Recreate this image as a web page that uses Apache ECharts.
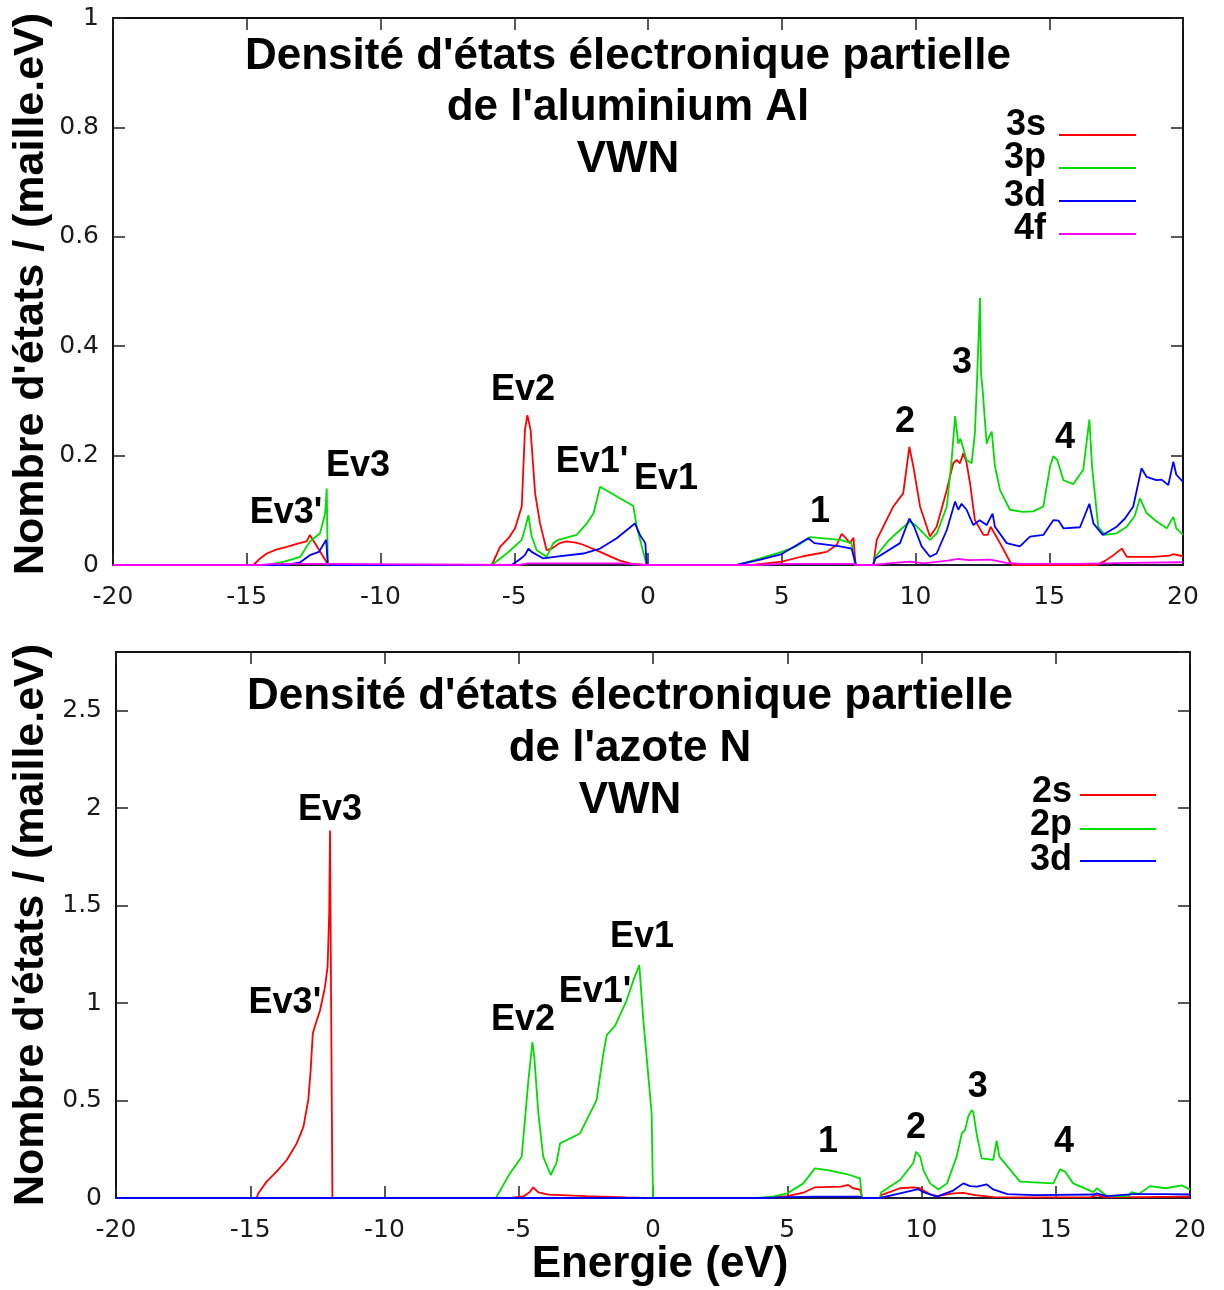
<!DOCTYPE html>
<html>
<head>
<meta charset="utf-8">
<script src="https://cdn.jsdelivr.net/npm/echarts@6/dist/echarts.min.js"></script>
<style>
html,body{margin:0;padding:0;background:#fff;}
#c{width:1224px;height:1290px;}
</style>
</head>
<body>
<div id="c"></div>
<script>
// ---------- Data (Energy eV, DOS states/(maille.eV)) ----------
const xTicks = [-20, -15, -10, -5, 0, 5, 10, 15, 20];

// Top panel: Al partial DOS
const al3s = [[-20,0],[-14.75,0],[-14.5,0.012],[-14.25,0.021],[-13.9,0.028],[-13.5,0.033],[-13.1,0.039],[-12.76,0.043],[-12.64,0.055],[-12.3,0.028],[-11.95,0],
 [-5.84,0],[-5.53,0.033],[-5.2,0.05],[-4.97,0.067],[-4.72,0.107],[-4.6,0.247],[-4.51,0.274],[-4.39,0.247],[-4.22,0.131],[-4.04,0.077],[-3.79,0.027],[-3.6,0.03],[-3.3,0.04],[-3.04,0.043],[-2.7,0.041],[-2.42,0.037],[-1.79,0.024],[-1.05,0.008],[-0.6,0.002],[-0.1,0],
 [3.9,0],[5,0.006],[5.8,0.016],[6.68,0.024],[7.06,0.037],[7.24,0.057],[7.4,0.049],[7.55,0.04],[7.68,0.05],[7.76,0],
 [8.42,0],[8.55,0.046],[9.17,0.107],[9.54,0.131],[9.77,0.216],[9.92,0.18],[10.17,0.107],[10.54,0.052],[10.79,0.07],[11.17,0.137],[11.41,0.186],[11.54,0.192],[11.66,0.186],[11.79,0.204],[11.9,0.189],[12.04,0.149],[12.22,0.082],[12.54,0.055],[12.7,0.055],[12.81,0.07],[13.16,0.04],[13.6,0],
 [16.77,0],[17.1,0.008],[17.4,0.018],[17.71,0.03],[17.9,0.015],[18.9,0.015],[19.5,0.017],[19.64,0.02],[20,0.016]];
const al3p = [[-20,0],[-14.25,0],[-13.6,0.006],[-13.0,0.015],[-12.64,0.043],[-12.26,0.058],[-12.07,0.094],[-12.01,0.14],[-11.97,0],
 [-5.84,0],[-5.28,0.021],[-4.72,0.046],[-4.58,0.07],[-4.47,0.091],[-4.35,0.052],[-4.16,0.027],[-3.79,0.015],[-3.54,0.04],[-3.35,0.046],[-2.67,0.055],[-2.3,0.075],[-2.04,0.094],[-1.79,0.143],[-0.55,0.108],[-0.42,0.07],[-0.05,0],
 [3.31,0],[4.2,0.012],[5,0.024],[5.5,0.033],[5.93,0.046],[6.05,0.051],[7.18,0.046],[7.61,0.04],[7.74,0],
 [8.42,0],[8.5,0.015],[9.0,0.045],[9.42,0.064],[9.79,0.079],[10.0,0.073],[10.54,0.046],[10.8,0.058],[11.17,0.107],[11.35,0.192],[11.48,0.272],[11.6,0.222],[11.68,0.231],[11.91,0.192],[12.1,0.186],[12.22,0.241],[12.31,0.35],[12.41,0.488],[12.45,0.35],[12.5,0.326],[12.66,0.222],[12.75,0.234],[12.85,0.244],[12.97,0.18],[13.16,0.137],[13.53,0.101],[14.0,0.097],[14.4,0.098],[14.78,0.107],[15.03,0.18],[15.15,0.199],[15.3,0.192],[15.53,0.155],[15.9,0.148],[16.27,0.174],[16.5,0.266],[16.6,0.18],[16.83,0.07],[17.08,0.055],[17.52,0.058],[17.9,0.07],[18.2,0.09],[18.39,0.122],[18.64,0.095],[19.0,0.08],[19.39,0.067],[19.64,0.088],[19.75,0.067],[20,0.055]];
const al3d = [[-20,0],[-13.5,0],[-13.0,0.005],[-12.64,0.018],[-12.3,0.024],[-12.03,0.046],[-11.97,0],
 [-5.1,0],[-4.8,0.01],[-4.6,0.018],[-4.47,0.03],[-4.35,0.024],[-3.91,0.012],[-3.5,0.015],[-2.42,0.021],[-1.79,0.03],[-1.17,0.049],[-0.49,0.076],[-0.3,0.055],[-0.1,0.04],[-0.05,0],
 [3.31,0],[4.2,0.01],[5,0.02],[5.99,0.049],[6.22,0.04],[7.18,0.034],[7.61,0.03],[7.78,0],
 [8.42,0],[8.5,0.012],[9.42,0.04],[9.77,0.085],[9.95,0.07],[10.23,0.034],[10.54,0.015],[10.79,0.021],[11.17,0.064],[11.48,0.116],[11.6,0.101],[11.72,0.112],[11.91,0.101],[12.16,0.073],[12.4,0.082],[12.66,0.073],[12.88,0.094],[12.97,0.07],[13.41,0.04],[13.9,0.034],[14.28,0.052],[14.78,0.055],[15.15,0.082],[15.35,0.081],[15.53,0.067],[16.15,0.069],[16.5,0.112],[16.65,0.076],[17.0,0.055],[17.52,0.07],[17.83,0.085],[18.14,0.107],[18.45,0.177],[18.64,0.161],[19.0,0.155],[19.2,0.156],[19.45,0.146],[19.64,0.189],[19.75,0.165],[20,0.152]];
const al4f = [[-20,0],[-14.5,0],[-14,0.002],[-12,0.002],[-11.95,0],[-4.8,0],[-4.5,0.003],[-1,0.003],[-0.1,0],[4,0],[5,0.002],[7.7,0.002],[7.8,0],[8.4,0],[9,0.003],[9.8,0.006],[10.3,0.003],[11.2,0.008],[11.6,0.011],[12,0.009],[12.8,0.01],[13.4,0.004],[14,0.002],[16,0.002],[17,0.003],[18,0.004],[20,0.005]];

// Bottom panel: N partial DOS
const n2s = [[-20,0],[-14.76,0],[-14.7,0.024],[-14.39,0.084],[-14.02,0.135],[-13.64,0.195],[-13.27,0.28],[-13.02,0.365],[-12.84,0.502],[-12.75,0.656],[-12.67,0.844],[-12.6,0.878],[-12.4,0.963],[-12.22,1.08],[-12.12,1.185],[-12.06,1.458],[-12.03,1.885],[-11.94,0],
 [-5.3,0],[-4.8,0.01],[-4.6,0.029],[-4.46,0.055],[-4.27,0.029],[-3.9,0.017],[-2.5,0.01],[-1.0,0.003],[-0.3,0],
 [4.2,0],[5.0,0.01],[5.6,0.027],[6.03,0.055],[7.0,0.058],[7.27,0.067],[7.45,0.05],[7.71,0.043],[7.8,0],
 [8.45,0],[8.5,0.015],[9.2,0.05],[9.69,0.055],[9.94,0.05],[10.3,0.02],[10.6,0.01],[11.18,0.024],[11.55,0.026],[12.0,0.015],[12.7,0.005],[14,0.003],[16.3,0.005],[16.53,0.015],[16.8,0.005],[18,0.005],[20,0.007]];
const n2p = [[-20,0],[-5.85,0],[-5.33,0.126],[-4.89,0.212],[-4.64,0.605],[-4.49,0.8],[-4.42,0.72],[-4.27,0.434],[-4.09,0.212],[-3.81,0.118],[-3.6,0.178],[-3.46,0.28],[-3.4,0.27],[-2.72,0.331],[-2.1,0.502],[-1.85,0.741],[-1.72,0.835],[-1.4,0.886],[-0.98,1.014],[-0.73,1.117],[-0.51,1.194],[-0.36,0.912],[-0.05,0.434],[0,0],
 [3.86,0],[4.5,0.008],[5.0,0.024],[5.6,0.075],[6.03,0.152],[6.5,0.143],[7.21,0.123],[7.71,0.101],[7.74,0.104],[7.78,0],
 [8.45,0],[8.5,0.03],[9.2,0.092],[9.69,0.178],[9.8,0.237],[9.95,0.212],[10.07,0.143],[10.32,0.075],[10.63,0.044],[10.95,0.075],[11.31,0.212],[11.5,0.331],[11.62,0.348],[11.74,0.417],[11.87,0.451],[11.93,0.44],[12.05,0.331],[12.24,0.203],[12.67,0.195],[12.8,0.294],[12.9,0.212],[13.67,0.084],[14.91,0.075],[15.16,0.147],[15.35,0.135],[15.65,0.075],[16.4,0.03],[16.53,0.05],[16.9,0.01],[17.7,0.01],[17.83,0.03],[18.1,0.02],[18.51,0.061],[19.1,0.05],[19.69,0.065],[20,0.043]];
const n3d = [[-20,0],[4.2,0],[5,0.005],[6,0.007],[7.7,0.007],[7.8,0],[8.45,0],[8.5,0.01],[9.2,0.024],[9.88,0.046],[10.07,0.03],[10.57,0.007],[11.18,0.038],[11.56,0.075],[11.81,0.061],[12.06,0.058],[12.43,0.07],[12.67,0.044],[13.2,0.02],[14.2,0.015],[16.4,0.018],[16.53,0.024],[16.9,0.01],[17.9,0.02],[19.1,0.02],[20,0.018]];

// Peak annotations [label, E, DOS]
const alPeaks = [["Ev3'",-13.53,0.095],["Ev3",-10.84,0.181],["Ev2",-4.67,0.32],["Ev1'",-2.09,0.188],["Ev1",0.67,0.157],["1",6.43,0.097],["2",9.61,0.261],["3",11.74,0.369],["4",15.59,0.232]];
const nPeaks = [["Ev3",-12.03,1.988],["Ev3'",-13.71,0.999],["Ev2",-4.84,0.912],["Ev1'",-2.16,1.055],["Ev1",-0.41,1.337],["1",6.52,0.287],["2",9.8,0.359],["3",12.1,0.569],["4",15.31,0.287]];

const alNames = ["3s","3p","3d","4f"];
const nNames = ["2s","2p","3d"];
const titleAl = ["Densité d'états électronique partielle","de l'aluminium Al","VWN"];
const titleN = ["Densité d'états électronique partielle","de l'azote N","VWN"];
const yTitle = "Nombre d'états / (maille.eV)";
const xTitle = "Energie (eV)";

// ---------- Styles ----------
const COLORS = ['#ff0000','#00dd00','#0000ff','#ff00ff'];
const BOLD = '"Liberation Sans", Arial, sans-serif';
const TICKF = '"DejaVu Sans", sans-serif';

const chart = echarts.init(document.getElementById('c'), null, {renderer:'canvas'});

const grids = [
  {left:113, top:18, width:1070, height:547},
  {left:116, top:652, width:1074, height:546}
];

const TICK = {show:true, inside:true, length:12, lineStyle:{color:'#222', width:1.5}};
function xAxes(gi){
  return [
    {gridIndex:gi, type:'value', min:-20, max:20, interval:5, position:'bottom',
     axisLine:{show:true, onZero:false, lineStyle:{color:'#1b1f2e', width:2}},
     axisTick:TICK,
     axisLabel:{show:true, color:'#1a1a1a', fontFamily:TICKF, fontSize:25, margin:20},
     splitLine:{show:false}},
    {gridIndex:gi, type:'value', min:-20, max:20, interval:5, position:'top',
     axisLine:{show:true, onZero:false, lineStyle:{color:'#111', width:2}},
     axisTick:TICK, axisLabel:{show:false}, splitLine:{show:false}}
  ];
}
function yAxes(gi, max, interval){
  return [
    {gridIndex:gi, type:'value', min:0, max:max, interval:interval, position:'left',
     axisLine:{show:true, onZero:false, lineStyle:{color:'#111', width:2}},
     axisTick:TICK,
     axisLabel:{show:true, color:'#1a1a1a', fontFamily:TICKF, fontSize:25, margin:14, showMaxLabel: max===1},
     splitLine:{show:false}},
    {gridIndex:gi, type:'value', min:0, max:max, interval:interval, position:'right',
     axisLine:{show:true, onZero:false, lineStyle:{color:'#111', width:2}},
     axisTick:TICK, axisLabel:{show:false}, splitLine:{show:false}}
  ];
}

function lineSeries(name, data, color, xi, yi){
  return {name:name, type:'line', xAxisIndex:xi, yAxisIndex:yi, data:data,
    showSymbol:false, symbol:'none', lineStyle:{color:color, width:1.8}, itemStyle:{color:color},
    animation:false, silent:true, z:3};
}
function labelSeries(peaks, xi, yi){
  return {type:'scatter', xAxisIndex:xi, yAxisIndex:yi, symbolSize:0, itemStyle:{color:'#000', opacity:1},
    data: peaks.map(p => ({name:p[0], value:[p[1], p[2]]})),
    label:{show:true, position:'inside', formatter:'{b}', color:'#000', opacity:1, fontFamily:BOLD, fontWeight:'bold', fontSize:36},
    emphasis:{disabled:true},
    animation:false, silent:true, z:5};
}

const series = [
  lineSeries(alNames[0], al3s, COLORS[0], 0, 0),
  lineSeries(alNames[1], al3p, COLORS[1], 0, 0),
  lineSeries(alNames[2], al3d, COLORS[2], 0, 0),
  lineSeries(alNames[3], al4f, COLORS[3], 0, 0),
  labelSeries(alPeaks, 0, 0),
  lineSeries(nNames[0], n2s, COLORS[0], 2, 2),
  lineSeries(nNames[1], n2p, COLORS[1], 2, 2),
  lineSeries(nNames[2], n3d, COLORS[2], 2, 2),
  labelSeries(nPeaks, 2, 2)
];

// text graphics (titles, axis titles, legends)
const graphics = [];
function txt(s, x, y, size, align, rot){
  graphics.push({type:'text', x:x, y:y, rotation:rot||0, silent:true,
    style:{text:s, font:'bold '+size+'px '+BOLD, fill:'#000', align:align||'center', verticalAlign:'middle'}});
}
titleAl.forEach((t,i)=> txt(t, 628, [57,108,160][i], 44));
titleN.forEach((t,i)=> txt(t, 630, [697,749,801][i], 44));
txt(yTitle, 31, 294, 43, 'center', Math.PI/2);
txt(yTitle, 31, 925, 43, 'center', Math.PI/2);
txt(xTitle, 660, 1265, 44);

function legend(names, textRight, textYs, lineX0, lineX1, lineYs){
  names.forEach((n,i)=>{
    txt(n, textRight, textYs[i], 36, 'right');
    graphics.push({type:'line', silent:true, shape:{x1:lineX0, y1:lineYs[i], x2:lineX1, y2:lineYs[i]},
      style:{stroke:COLORS[i], lineWidth:1.8}});
  });
}
legend(alNames, 1046, [125,158,196,229], 1059, 1136, [135,168,201,234]);
legend(nNames, 1072, [792,825,860], 1080, 1156, [795,829,861]);

chart.setOption({
  animation:false,
  backgroundColor:'#fff',
  grid: grids,
  xAxis: [...xAxes(0), ...xAxes(1)],
  yAxis: [...yAxes(0, 1, 0.2), ...yAxes(1, 2.8, 0.5)],
  series: series,
  graphic: graphics
});
</script>
</body>
</html>
